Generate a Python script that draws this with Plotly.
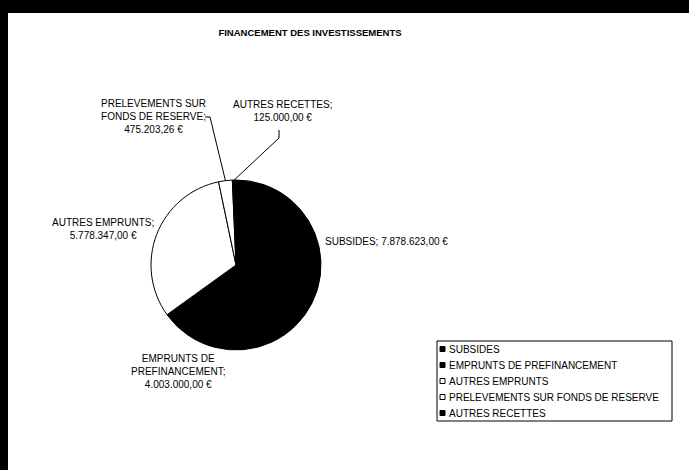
import math
import plotly.graph_objects as go

# ---- data ----
categories = ["SUBSIDES", "EMPRUNTS DE PREFINANCEMENT", "AUTRES EMPRUNTS",
              "PRELEVEMENTS SUR FONDS DE RESERVE", "AUTRES RECETTES"]
values = [7878623.00, 4003000.00, 5778347.00, 475203.26, 125000.00]
slice_colors = ["#000000", "#000000", "#FFFFFF", "#FFFFFF", "#000000"]
label_lines = [
    ["SUBSIDES; {v}"],
    ["EMPRUNTS DE", "PREFINANCEMENT;", "{v}"],
    ["AUTRES EMPRUNTS;", "{v}"],
    ["PRELEVEMENTS SUR", "FONDS DE RESERVE;", "{v}"],
    ["AUTRES RECETTES;", "{v}"],
]
title_text = "FINANCEMENT DES INVESTISSEMENTS"

W, H = 689, 470
FONT = "Liberation Sans, Arial, sans-serif"


def fmt_eur(v):
    s = f"{v:,.2f}"
    s = s.replace(",", "X").replace(".", ",").replace("X", ".")
    return s + " €"


def px(x):
    return x / W


def py(y):
    return 1 - y / H


# pie geometry (pixels)
cx, cy, r = 236, 265, 85

fig = go.Figure()
fig.add_trace(go.Pie(
    labels=categories,
    values=values,
    sort=False,
    direction="clockwise",
    rotation=0,
    textinfo="none",
    hoverinfo="label+value",
    marker=dict(colors=slice_colors, line=dict(color="#000000", width=1)),
    domain=dict(x=[px(cx - r), px(cx + r)], y=[py(cy + r), py(cy - r)]),
    showlegend=False,
))

# label positions (pixels): x, y, xanchor
label_pos = [
    (323, 242, "left"),
    (178, 371, "center"),
    (103, 229, "center"),
    (153, 117, "center"),
    (282, 111, "center"),
]

annotations = []
for i, cat in enumerate(categories):
    lines = [ln.replace("{v}", fmt_eur(values[i])) for ln in label_lines[i]]
    x, y, xa = label_pos[i]
    annotations.append(dict(
        text="<br>".join(lines), x=px(x), y=py(y), xref="paper", yref="paper",
        xanchor=xa, yanchor="middle", showarrow=False, align="center",
        font=dict(family=FONT, size=10, color="#000000"),
    ))

# leader lines from the small slices' mid-angles
total = sum(values)
cum = 0
mids = []
for v in values:
    mids.append((cum + v / 2) / total * 2 * math.pi)
    cum += v


def edge(i):
    a = mids[i]
    return cx + r * math.sin(a), cy - r * math.cos(a)


shapes = []
ex, ey = edge(3)
shapes.append(dict(type="path", xref="paper", yref="paper",
                   path=f"M {px(205)} {py(117)} L {px(210)} {py(117)} L {px(ex)} {py(ey)}",
                   line=dict(color="#000000", width=1)))
ex, ey = edge(4)
shapes.append(dict(type="path", xref="paper", yref="paper",
                   path=f"M {px(279)} {py(130)} L {px(279)} {py(138)} L {px(ex)} {py(ey)}",
                   line=dict(color="#000000", width=1)))

# legend box (built from the categories / colours)
lx0, lx1, ly0, ly1 = 437, 672, 341, 421
shapes.append(dict(type="rect", xref="paper", yref="paper",
                   x0=px(lx0), x1=px(lx1), y0=py(ly1), y1=py(ly0),
                   fillcolor="#FFFFFF", line=dict(color="#000000", width=1)))
for i, cat in enumerate(categories):
    iy = 349 + 16 * i
    shapes.append(dict(type="rect", xref="paper", yref="paper",
                       x0=px(440), x1=px(445), y0=py(iy + 2.5), y1=py(iy - 2.5),
                       fillcolor=slice_colors[i], line=dict(color="#000000", width=1)))
    annotations.append(dict(
        text=cat, x=px(447), y=py(iy), xref="paper", yref="paper",
        xanchor="left", yanchor="middle", showarrow=False,
        font=dict(family=FONT, size=10, color="#000000"),
    ))

# scanned-page black border (top band and left strip)
shapes.append(dict(type="rect", xref="paper", yref="paper", x0=0, x1=1,
                   y0=py(13), y1=1, fillcolor="#000000", line=dict(width=0), layer="above"))
shapes.append(dict(type="rect", xref="paper", yref="paper", x0=0, x1=px(8),
                   y0=0, y1=1, fillcolor="#000000", line=dict(width=0), layer="above"))

fig.update_layout(
    width=W, height=H, autosize=False,
    margin=dict(l=0, r=0, t=0, b=0),
    paper_bgcolor="#FFFFFF", plot_bgcolor="#FFFFFF",
    title=dict(text=f"<b>{title_text}</b>", x=px(310), xanchor="center",
               y=py(33), yanchor="middle", xref="paper", yref="container",
               font=dict(family=FONT, size=9.5, color="#000000")),
    showlegend=False,
    annotations=annotations,
    shapes=shapes,
)

fig.write_html("out.html", config={"displayModeBar": False},
               post_script="document.body.style.margin='0';")
